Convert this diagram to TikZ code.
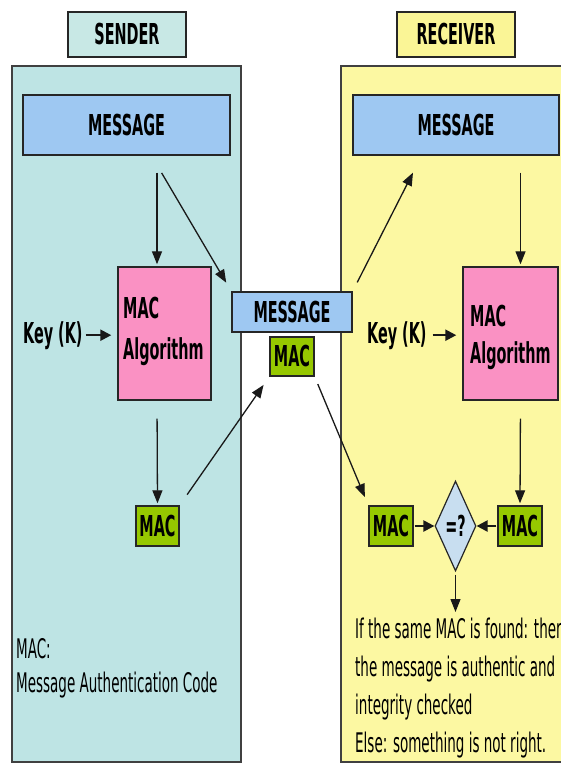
\documentclass[tikz,border=0pt]{standalone}
\usepackage{fontspec}
\setmainfont{DejaVu Sans Condensed}
\usetikzlibrary{arrows.meta,shapes.geometric,calc}
\definecolor{sendbg}{RGB}{190,228,228}
\definecolor{sendtitle}{RGB}{200,232,229}
\definecolor{recvbg}{RGB}{252,248,162}
\definecolor{recvtitle}{RGB}{250,245,150}
\definecolor{msgblue}{RGB}{158,200,242}
\definecolor{algopink}{RGB}{250,145,195}
\definecolor{macgreen}{RGB}{150,200,0}
\definecolor{diamfill}{RGB}{200,222,240}
\newcommand\vs[1]{\scalebox{1}[1.8]{#1}}
\begin{document}
\begin{tikzpicture}[x=1pt,y=-1pt,
  box/.style={draw=black!85,line width=1.4pt,inner sep=0pt},
  btxt/.style={font=\bfseries\fontsize{16}{19}\selectfont},
  rtxt/.style={font=\fontsize{15}{18}\selectfont,inner sep=0pt,anchor=base west},
  arr/.style={-{Triangle[length=13pt,width=10pt]},line width=1.3pt,black!90},
  keyarr/.style={-{Triangle[length=11pt,width=11pt]},line width=2.2pt,black!90}]
\useasboundingbox (0,0) rectangle (561,764);
\fill[white] (0,0) rectangle (561,764);
% panels
\draw[fill=sendbg,draw=black!75,line width=1.3pt] (12,66) rectangle (241,762);
\draw[fill=recvbg,draw=black!75,line width=1.3pt] (341,66) rectangle (580,762);
% titles
\node[box,btxt,fill=sendtitle,minimum width=118pt,minimum height=45pt] (stitle) at (127,34.5) {\vs{SENDER}};
\node[box,btxt,fill=recvtitle,minimum width=118pt,minimum height=45pt] (rtitle) at (456,34.5) {\vs{RECEIVER}};
% message boxes
\node[box,btxt,fill=msgblue,minimum width=207pt,minimum height=60pt] (smsg) at (126.5,125) {\vs{MESSAGE}};
\node[box,btxt,fill=msgblue,minimum width=206pt,minimum height=60pt] (rmsg) at (456,125) {\vs{MESSAGE}};
\node[box,btxt,fill=msgblue,minimum width=120pt,minimum height=40pt] (mmsg) at (292,312) {\vs{MESSAGE}};
\node[box,btxt,fill=macgreen,minimum width=44pt,minimum height=39pt] (mmac) at (292,356.5) {\vs{MAC}};
% algorithm boxes
\node[box,fill=algopink,minimum width=93pt,minimum height=133pt] (salgo) at (164.5,333.5) {};
\node[box,fill=algopink,minimum width=95pt,minimum height=133pt] (ralgo) at (510.5,333.5) {};
\node[btxt,inner sep=0pt,anchor=base west] (salgot) at (123,318) {\vs{\parbox[t]{90pt}{\baselineskip=23.3pt MAC\\Algorithm}}};
\node[btxt,inner sep=0pt,anchor=base west] (ralgot) at (470,326) {\vs{\parbox[t]{90pt}{\baselineskip=21.1pt MAC\\Algorithm}}};
% keys
\node[btxt,inner sep=0pt,anchor=base west] (skey) at (23,343) {\vs{Key (K)}};
\node[btxt,inner sep=0pt,anchor=base west] (rkey) at (367,343) {\vs{Key (K)}};
% MAC boxes
\node[box,btxt,fill=macgreen,minimum width=43pt,minimum height=40pt] (smac) at (157.5,526) {\vs{MAC}};
\node[box,btxt,fill=macgreen,minimum width=44pt,minimum height=40pt] (rmacl) at (391,526) {\vs{MAC}};
\node[box,btxt,fill=macgreen,minimum width=44pt,minimum height=40pt] (rmacr) at (520,526) {\vs{MAC}};
\node[draw=black!85,line width=1.2pt,fill=diamfill,shape=diamond,aspect=0.45,minimum width=41pt,minimum height=90pt,inner sep=0pt,btxt] (diam) at (455.5,526) {\vs{=?}};
\coordinate (dend) at (455.5,612);
% notes
\node[rtxt] (snote) at (16,658) {\vs{\parbox[t]{220pt}{\baselineskip=19.4pt MAC:\\Message Authentication Code}}};
\node[rtxt] (rnote) at (355,638) {\vs{\parbox[t]{260pt}{\baselineskip=21.2pt If the same MAC is found: then\\the message is authentic and\\integrity checked\\Else: something is not right.}}};
% arrows
\draw[arr,shorten <=17pt,shorten >=2pt] ([xshift=30.5pt]smsg.south) -- ([xshift=-7.5pt]salgo.north);
\draw[arr,shorten <=20pt,shorten >=10pt] ([xshift=25pt]smsg.south) -- (mmsg.north west);
\draw[arr,shorten <=18pt,shorten >=2pt] ([xshift=-7.5pt]salgo.south) -- (smac.north);
\draw[arr,shorten <=13pt,shorten >=10pt] (smac.north east) -- (mmac.south west);
\draw[arr,shorten <=10pt,shorten >=19pt] (mmsg.north east) -- ([xshift=-34.4pt]rmsg.south);
\draw[arr,shorten <=17pt,shorten >=2pt] ([xshift=64.5pt]rmsg.south) -- ([xshift=10pt]ralgo.north);
\draw[arr,shorten <=8pt,shorten >=9pt] (mmac.south east) -- (rmacl.north west);
\draw[arr,shorten <=18pt,shorten >=2pt] ([xshift=10pt]ralgo.south) -- (rmacr.north);
\draw[keyarr,shorten <=1pt] (rmacl.east) -- (diam.west);
\draw[keyarr,shorten <=1pt] (rmacr.west) -- (diam.east);
\draw[arr,shorten <=3pt] (diam.south) -- (dend);
\draw[keyarr,shorten <=3pt,shorten >=6pt] (skey.east) -- (skey.east -| salgo.west);
\draw[keyarr,shorten <=6pt,shorten >=6pt] (rkey.east) -- (rkey.east -| ralgo.west);
\end{tikzpicture}
\end{document}
